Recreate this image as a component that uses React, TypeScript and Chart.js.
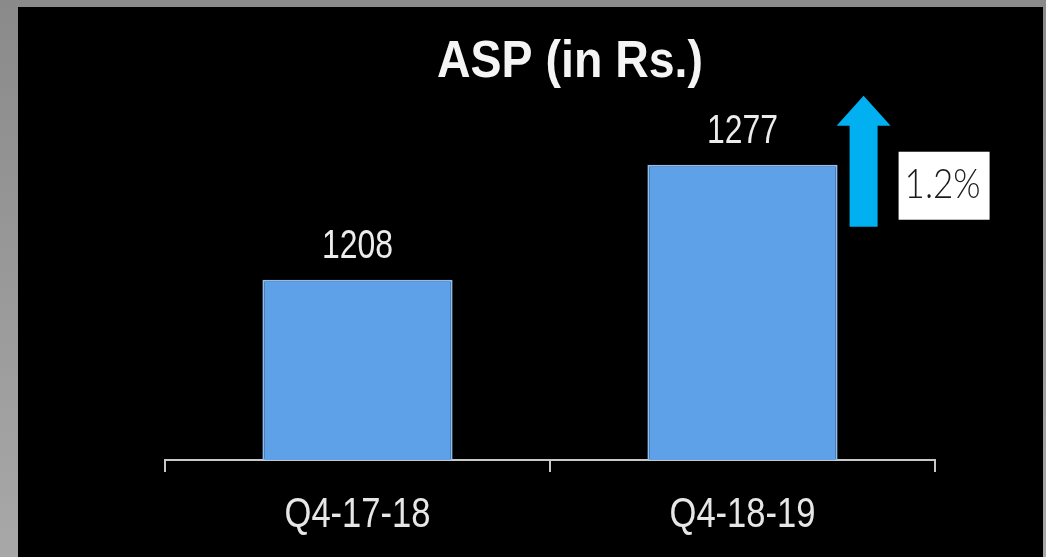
import React, { useEffect, useRef } from "react";
import { Chart, registerables } from "chart.js";

Chart.register(...registerables);

const chartTitle = "ASP (in Rs.)";
const categories = ["Q4-17-18", "Q4-18-19"];
const aspValues = [1208, 1277];
const growthLabel = "1.2%";
const yMin = 1100;
const yMax = 1320;

function drawFitted(ctx: CanvasRenderingContext2D, text: string, x: number, y: number, font: string, color: string, targetWidth: number) {
  ctx.save();
  ctx.font = font;
  ctx.fillStyle = color;
  ctx.textAlign = "center";
  ctx.textBaseline = "alphabetic";
  const w = ctx.measureText(text).width;
  const s = w > 0 ? targetWidth / w : 1;
  ctx.translate(x, y);
  ctx.scale(s, 1);
  ctx.fillText(text, 0, 0);
  ctx.restore();
}

const overlayPlugin = {
  id: "overlay",
  afterDatasetsDraw(chart: any) {
    const ctx: CanvasRenderingContext2D = chart.ctx;
    const area = chart.chartArea;
    const meta = chart.getDatasetMeta(0);
    const xScale = chart.scales.x;

    // title
    drawFitted(ctx, chartTitle, area.left + area.width / 2 + 20, 70, "bold 52px 'Liberation Sans'", "#f4f4f4", 266);

    // category labels (narrow face emulated)
    xScale.ticks.forEach((_t: any, i: number) => {
      const label = String(xScale.getLabelForValue(i));
      drawFitted(ctx, label, xScale.getPixelForTick(i), xScale.bottom + 55, "42px 'Liberation Sans'", "#e6e6e6", 146);
    });

    // value labels
    meta.data.forEach((bar: any, i: number) => {
      drawFitted(ctx, String(aspValues[i]), bar.x, bar.y - 22, "40px 'Liberation Sans'", "#ececec", 71);
    });

    // growth arrow + box next to the last bar
    const b = meta.data[meta.data.length - 1];
    const right = b.x + b.width / 2;
    const top = b.y;
    const cx = right + 26;
    ctx.save();
    ctx.fillStyle = "#00b0f0";
    ctx.beginPath();
    ctx.moveTo(cx, top - 69);
    ctx.lineTo(cx + 27, top - 39);
    ctx.lineTo(cx + 14, top - 39);
    ctx.lineTo(cx + 14, top + 62);
    ctx.lineTo(cx - 14, top + 62);
    ctx.lineTo(cx - 14, top - 39);
    ctx.lineTo(cx - 27, top - 39);
    ctx.closePath();
    ctx.fill();
    ctx.fillStyle = "#ffffff";
    ctx.fillRect(right + 61, top - 13, 91, 68);
    ctx.restore();
    drawFitted(ctx, growthLabel, right + 105, top + 33, "300 42px Lato, 'Open Sans', 'Liberation Sans'", "#1a1a1a", 76);
  },
};

export default function App() {
  const ref = useRef<HTMLCanvasElement | null>(null);
  useEffect(() => {
    if (!ref.current) return;
    const chart = new Chart(ref.current, {
      type: "bar",
      data: {
        labels: categories,
        datasets: [
          {
            data: aspValues,
            backgroundColor: "#5ea1e8",
            borderColor: "#8cc0f3",
            borderWidth: 2,
            borderSkipped: "bottom",
            categoryPercentage: 1,
            barPercentage: 0.494,
          },
        ],
      },
      options: {
        animation: false,
        responsive: false,
        maintainAspectRatio: false,
        layout: { padding: { left: 147, right: 108, top: 86, bottom: 85 } },
        plugins: { legend: { display: false }, title: { display: false }, tooltip: { enabled: false } },
        scales: {
          x: {
            grid: { display: true, drawOnChartArea: false, drawTicks: true, tickLength: 12, color: "#c8c8c8", lineWidth: 2 },
            border: { display: true, color: "#c8c8c8", width: 2 },
            ticks: { display: false },
          },
          y: { display: false, min: yMin, max: yMax },
        },
      },
      plugins: [overlayPlugin],
    });
    return () => chart.destroy();
  }, []);

  return (
    <div
      style={{
        position: "absolute",
        left: 0,
        top: 0,
        width: 1046,
        height: 557,
        overflow: "hidden",
        background: "linear-gradient(180deg, #8a8a8a 0%, #9c9c9c 60%, #a8a8a8 100%)",
      }}
    >
      <div style={{ position: "absolute", left: 18, top: 7, width: 1025, height: 550, background: "#000" }}>
        <canvas ref={ref} width={1025} height={550} style={{ display: "block", width: 1025, height: 550 }} />
      </div>
    </div>
  );
}
